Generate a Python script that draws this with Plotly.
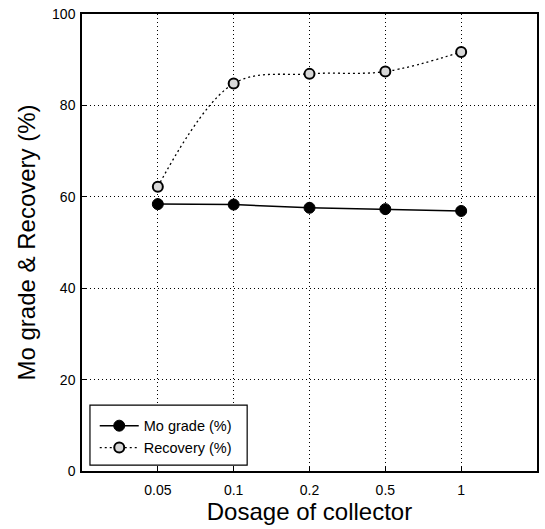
import plotly.graph_objects as go

categories = ["0.05", "0.1", "0.2", "0.5", "1"]
mo_grade = [58.4, 58.3, 57.6, 57.3, 56.9]
recovery = [62.2, 84.8, 86.9, 87.4, 91.7]

font_family = "Liberation Sans, Arial, sans-serif"
xpos = list(range(len(categories)))

fig = go.Figure()
fig.add_trace(go.Scatter(
    x=xpos, y=mo_grade, name="Mo grade (%)",
    mode="lines+markers",
    line=dict(color="black", width=1.5),
    marker=dict(symbol="circle", size=11, color="black", line=dict(color="black", width=1)),
))
fig.add_trace(go.Scatter(
    x=xpos, y=recovery, name="Recovery (%)",
    mode="lines+markers",
    line=dict(color="black", width=1.3, dash="2px,3px", shape="spline", smoothing=1.0),
    marker=dict(symbol="circle", size=10, color="#d8d8d8", line=dict(color="black", width=2)),
))

# legend frame (white box behind the legend)
fig.add_shape(type="rect", xref="paper", yref="paper",
              x0=0.0175, x1=0.363, y0=0.013, y1=0.144,
              line=dict(color="black", width=1.2), fillcolor="white", layer="above")

fig.update_layout(
    width=545, height=529,
    margin=dict(l=82, r=6, t=14, b=58),
    paper_bgcolor="white", plot_bgcolor="white",
    font=dict(family=font_family, color="black"),
    showlegend=True,
    legend=dict(
        x=0.028, y=0.134, xanchor="left", yanchor="top",
        bgcolor="rgba(0,0,0,0)", borderwidth=0,
        font=dict(size=14.5, family=font_family),
        itemwidth=39, tracegroupgap=0,
    ),
    xaxis=dict(
        range=[-1, 5],
        tickmode="array", tickvals=xpos, ticktext=categories,
        showgrid=True, gridcolor="black", griddash="1px,3px", gridwidth=1,
        showline=True, linecolor="black", linewidth=1.5, mirror=True,
        ticks="inside", ticklen=4, tickcolor="black",
        tickfont=dict(size=14), ticklabelstandoff=5,
        title=dict(text="Dosage of collector", font=dict(size=24), standoff=6),
        zeroline=False,
    ),
    yaxis=dict(
        range=[0, 100],
        tickvals=[0, 20, 40, 60, 80, 100],
        showgrid=True, gridcolor="black", griddash="1px,3px", gridwidth=1,
        showline=True, linecolor="black", linewidth=1.5, mirror=True,
        ticks="inside", ticklen=4, tickcolor="black",
        tickfont=dict(size=14), ticklabelstandoff=2,
        title=dict(text="Mo grade & Recovery (%)", font=dict(size=24), standoff=10),
        zeroline=False,
    ),
)

fig.write_html("out.html")
